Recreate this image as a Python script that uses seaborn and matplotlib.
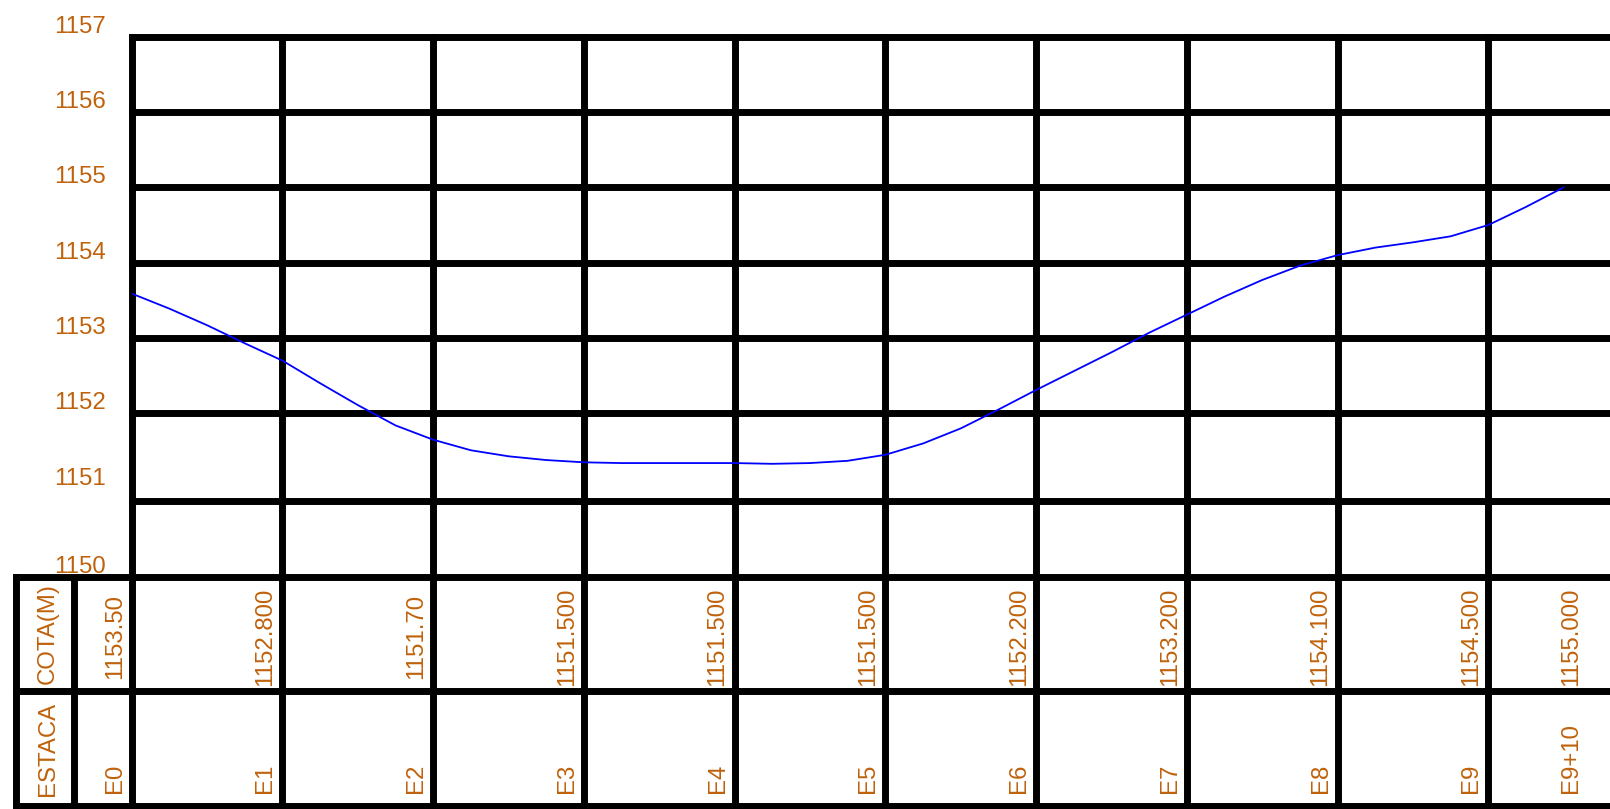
import matplotlib
matplotlib.use("Agg")
import matplotlib.pyplot as plt
import matplotlib.transforms as mtransforms
import pandas as pd
import seaborn as sns

# ------------------------------
# Data
# ------------------------------
stations = ['E0', 'E1', 'E2', 'E3', 'E4', 'E5', 'E6', 'E7', 'E8', 'E9', 'E9+10']
station_dist = [0, 20, 40, 60, 80, 100, 120, 140, 160, 180, 190]
cota_labels = ['1153.50', '1152.800', '1151.70', '1151.500', '1151.500', '1151.500',
               '1152.200', '1153.200', '1154.100', '1154.500', '1155.000']

# terrain line (distance in m, elevation in m), read every 5 m off the blue curve
terrain_dist = [0, 5, 10, 15, 20, 25, 30, 35, 40, 45, 50, 55, 60, 65, 70, 75, 80, 85,
                90, 95, 100, 105, 110, 115, 120, 125, 130, 135, 140, 145, 150, 155,
                160, 165, 170, 175, 180, 185, 190]
terrain_elev = [1153.59, 1153.39, 1153.17, 1152.93, 1152.70, 1152.40, 1152.11, 1151.84,
                1151.65, 1151.51, 1151.43, 1151.38, 1151.35, 1151.34, 1151.34, 1151.34,
                1151.34, 1151.33, 1151.34, 1151.37, 1151.45, 1151.60, 1151.80, 1152.05,
                1152.31, 1152.56, 1152.81, 1153.07, 1153.31, 1153.55, 1153.77, 1153.96,
                1154.10, 1154.20, 1154.27, 1154.35, 1154.50, 1154.74, 1155.00]

elev_labels = ['1157', '1156', '1155', '1154', '1153', '1152', '1151', '1150']
elev_label_pos = [1157, 1156, 1155, 1154, 1153, 1152, 1151, 1149.83]
grid_elev = [1157, 1156, 1155, 1154, 1153, 1152, 1150.84]
grid_dist = [0, 20, 40, 60, 80, 100, 120, 140, 160, 180]

# ------------------------------
# Layout (pixels of the 1610x809 drawing)
# ------------------------------
W, H = 1610, 809
PX_M = 150.73 / 20          # pixels per metre along the profile
X0 = 131.7                  # pixel of E0
TOP, BASE, BOTTOM = 36.7, 576.7, 806.0
TABLE_LEFT, TABLE_SEP = 16.0, 74.0

ORANGE = '#C0620C'
LW = 5.0
FS = 17.3

sns.set_style('white')
plt.rcParams['font.family'] = ['Liberation Sans', 'DejaVu Sans']

fig = plt.figure(figsize=(W / 100, H / 100), dpi=100)

# profile axes
ax = fig.add_axes([X0 / W, 1 - BASE / H, 1 - X0 / W, (BASE - TOP) / H])
ax.set_xlim(0, (W - X0) / PX_M)
ax.set_ylim(1157 - (BASE - TOP) / 75.33, 1157)
ax.set_axis_off()

# table axes
tax = fig.add_axes([TABLE_LEFT / W, 1 - BOTTOM / H, 1 - TABLE_LEFT / W, (BOTTOM - BASE) / H])
tax.set_xlim((TABLE_LEFT - X0) / PX_M, (W - X0) / PX_M)
tax.set_ylim(0, 2)
tax.set_axis_off()

line_kw = dict(color='black', lw=LW, clip_on=False, solid_capstyle='projecting', zorder=2)

for y in grid_elev:
    ax.axhline(y, **line_kw)
for x in grid_dist:
    ax.axvline(x, **line_kw)
    tax.axvline(x, **line_kw)
for y in [0, 1, 2]:
    tax.axhline(y, **line_kw)
tax.axvline((TABLE_LEFT - X0) / PX_M, **line_kw)
tax.axvline((TABLE_SEP - X0) / PX_M, **line_kw)

# terrain line
df = pd.DataFrame({'dist': terrain_dist, 'elev': terrain_elev})
sns.lineplot(data=df, x='dist', y='elev', ax=ax, color='blue', lw=1.3, zorder=5)
ax.set_xlabel('')
ax.set_ylabel('')

# elevation labels
ylab_tr = mtransforms.offset_copy(ax.get_yaxis_transform(), fig=fig, x=-25.7, y=4, units='dots')
for pos, lab in zip(elev_label_pos, elev_labels):
    ax.text(0, pos, lab, transform=ylab_tr, ha='right', va='baseline',
            color=ORANGE, fontsize=FS)

# table row titles
col_mid = ((TABLE_LEFT + TABLE_SEP) / 2 + 3 - X0) / PX_M
tax.text(col_mid, 1.5, 'COTA(M)', rotation=90, ha='center', va='center', color=ORANGE, fontsize=FS)
tax.text(col_mid, 0.5, 'ESTACA', rotation=90, ha='center', va='center', color=ORANGE, fontsize=FS)

# table values
for i, (d, cota, st) in enumerate(zip(station_dist, cota_labels, stations)):
    off = -6 if i < len(stations) - 1 else 18
    tr = mtransforms.offset_copy(tax.transData, fig=fig, x=off, y=0, units='dots')
    tax.text(d, 1.48, cota, rotation=90, ha='right', va='center', color=ORANGE,
             fontsize=FS, transform=tr)
    tax.text(d, 0.11, st, rotation=90, ha='right', va='bottom', color=ORANGE,
             fontsize=FS, transform=tr)

fig.savefig('out.png', dpi=100)
